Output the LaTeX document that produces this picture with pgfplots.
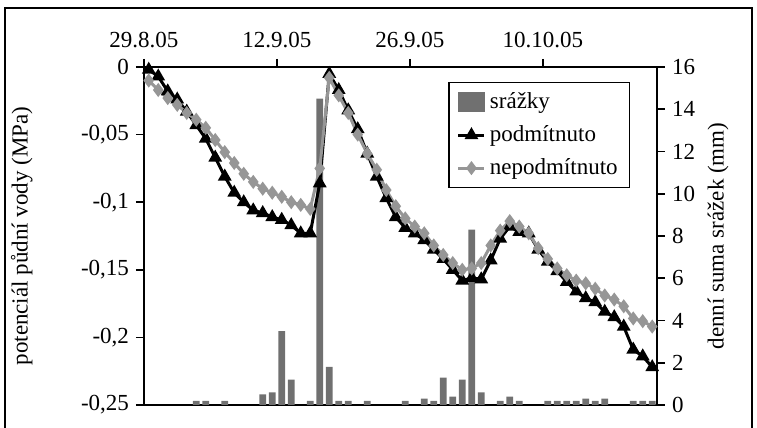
\documentclass[border=0pt]{standalone}
\usepackage{fontspec}
\setmainfont{Liberation Serif}
\usepackage{pgfplots}
\pgfplotsset{compat=1.18}
\usetikzlibrary{calc}
\definecolor{bargray}{RGB}{112,112,112}
\definecolor{linegray}{RGB}{150,150,150}
\newcommand\chartfont{\fontsize{11.5}{14}\selectfont}
\pgfplotsset{
    shortline/.style={legend image code/.code={\draw[mark repeat=2,mark phase=2,##1] plot coordinates {(0pt,0pt)(6.5pt,0pt)(13pt,0pt)};}},
    shortbar/.style={legend image code/.code={\fill[bargray] (0pt,-4.5pt) rectangle (13pt,4.5pt);}},
}

\begin{document}
\begin{tikzpicture}
% bars: daily rainfall, right axis
\begin{axis}[
    width=256.5pt, height=169pt, scale only axis,
    xmin=-0.5, xmax=53.5, ymin=0, ymax=16,
    axis x line*=bottom, axis y line*=right,
    axis line style={line width=1pt},
    xtick=\empty,
    ytick={0,2,4,6,8,10,12,14,16},
    yticklabels={0,2,4,6,8,10,12,14,16},
    tick align=outside, major tick length=4pt,
    every tick/.style={black, line width=0.8pt},
    tick label style={font=\chartfont},
    ylabel={denní suma srážek (mm)},
    ylabel style={font=\chartfont, at={(axis description cs:1.119,0.5)}, anchor=center},
]
\addplot[ybar, bar width=3.3pt, fill=bargray, draw=none] coordinates {
    (5,0.2) (6,0.2) (8,0.2) (12,0.5) (13,0.6) (14,3.5) (15,1.2) (17,0.2)
    (18,14.5) (19,1.8) (20,0.2) (21,0.2) (23,0.2) (27,0.2) (29,0.3) (30,0.2)
    (31,1.3) (32,0.4) (33,1.2) (34,8.3) (35,0.6) (37,0.2) (38,0.4) (39,0.2)
    (42,0.2) (43,0.2) (44,0.2) (45,0.2) (46,0.3) (47,0.2) (48,0.3) (51,0.2)
    (52,0.2) (53,0.2)
};
\coordinate (O) at (rel axis cs:0,0);
\end{axis}

% soil water potential, left axis
\begin{axis}[
    width=256.5pt, height=169pt, scale only axis,
    xmin=-0.5, xmax=53.5, ymin=-0.25, ymax=0,
    axis x line*=top, axis y line*=left,
    axis line style={line width=1pt},
    xtick={-0.5,13.5,27.5,41.5},
    xticklabels={29.8.05,12.9.05,26.9.05,10.10.05},
    xticklabel style={yshift=2pt},
    ytick={-0.25,-0.2,-0.15,-0.1,-0.05,0},
    yticklabels={{-0,25},{-0,2},{-0,15},{-0,1},{-0,05},0},
    tick align=outside, major tick length=4pt,
    every tick/.style={black, line width=0.8pt},
    tick label style={font=\chartfont},
    ylabel={potenciál půdní vody (MPa)},
    ylabel style={font=\chartfont, at={(axis description cs:-0.238,0.5)}, anchor=center},
    legend style={at={(rel axis cs:0.593,0.956)}, anchor=north west,
        draw=black, line width=0.75pt, font=\chartfont,
        inner xsep=4pt, inner ysep=3pt, row sep=3pt,
        /tikz/every even column/.append style={column sep=1pt}},
    legend cell align=left,
]
\addlegendimage{shortbar}
\addlegendentry{srážky}
\addplot[black, line width=1.5pt, mark=triangle*, mark size=2.5pt, shortline]
coordinates {
    (0,-0.002) (1,-0.007) (2,-0.018) (3,-0.024) (4,-0.033) (5,-0.043)
    (6,-0.053) (7,-0.067) (8,-0.081) (9,-0.093) (10,-0.100) (11,-0.106)
    (12,-0.108) (13,-0.111) (14,-0.113) (15,-0.117) (16,-0.123) (17,-0.123)
    (18,-0.086) (19,-0.005) (20,-0.017) (21,-0.032) (22,-0.046) (23,-0.064)
    (24,-0.081) (25,-0.097) (26,-0.111) (27,-0.119) (28,-0.123) (29,-0.128)
    (30,-0.135) (31,-0.142) (32,-0.150) (33,-0.158) (34,-0.156) (35,-0.157)
    (36,-0.143) (37,-0.127) (38,-0.118) (39,-0.122) (40,-0.123) (41,-0.135)
    (42,-0.144) (43,-0.151) (44,-0.159) (45,-0.166) (46,-0.171) (47,-0.174)
    (48,-0.181) (49,-0.185) (50,-0.192) (51,-0.209) (52,-0.214) (53,-0.222)
};
\addlegendentry{podmítnuto}
\addplot[linegray, line width=1.5pt, mark=diamond*, mark size=2.3pt, shortline]
coordinates {
    (0,-0.010) (1,-0.017) (2,-0.023) (3,-0.028) (4,-0.034) (5,-0.039)
    (6,-0.045) (7,-0.054) (8,-0.063) (9,-0.071) (10,-0.079) (11,-0.085)
    (12,-0.090) (13,-0.093) (14,-0.096) (15,-0.100) (16,-0.102) (17,-0.105)
    (18,-0.075) (19,-0.008) (20,-0.021) (21,-0.034) (22,-0.050) (23,-0.064)
    (24,-0.076) (25,-0.091) (26,-0.103) (27,-0.112) (28,-0.118) (29,-0.123)
    (30,-0.132) (31,-0.139) (32,-0.145) (33,-0.150) (34,-0.149) (35,-0.145)
    (36,-0.132) (37,-0.121) (38,-0.114) (39,-0.118) (40,-0.123) (41,-0.134)
    (42,-0.142) (43,-0.149) (44,-0.154) (45,-0.158) (46,-0.160) (47,-0.164)
    (48,-0.169) (49,-0.172) (50,-0.177) (51,-0.186) (52,-0.188) (53,-0.192)
};
\addlegendentry{nepodmítnuto}
\end{axis}

% outer frame
\draw[line width=1pt] ($(O)+(-69.5pt,-11.5pt)$) -- ($(O)+(-69.5pt,198.5pt)$)
    -- ($(O)+(304pt,198.5pt)$) -- ($(O)+(304pt,-11.5pt)$);
\pgfresetboundingbox
\path ($(O)+(-72pt,-11.5pt)$) rectangle ($(O)+(306.5pt,202.5pt)$);
\end{tikzpicture}
\end{document}
